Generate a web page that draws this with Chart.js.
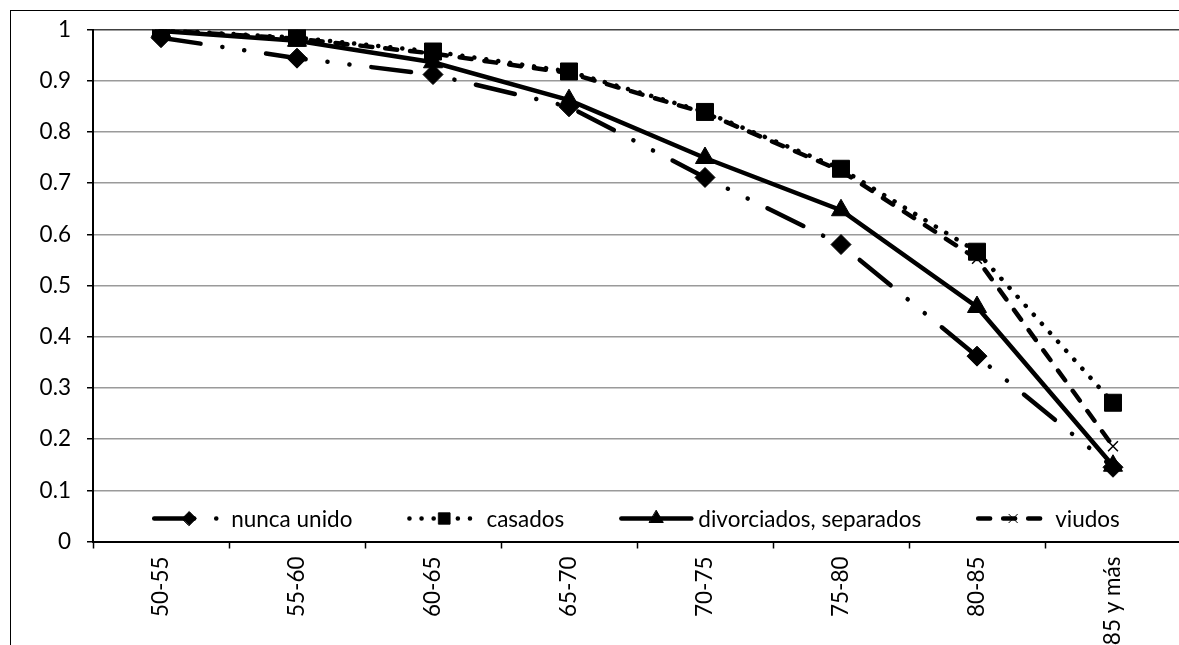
<!DOCTYPE html>
<html>
<head>
<meta charset="utf-8">
<script src="https://cdn.jsdelivr.net/npm/chart.js@4.4.1/dist/chart.umd.min.js"></script>
<style>
html, body { margin: 0; padding: 0; background: #fff; overflow: hidden; width: 1179px; height: 645px; }
#clip { position: absolute; left: 0; top: 0; width: 1179px; height: 645px; overflow: hidden; }
#frame { position: absolute; left: 10px; top: 10px; width: 1220px; height: 700px; border-left: 1.5px solid #000; border-top: 1.5px solid #000; box-sizing: border-box; }
#wrap { position: absolute; left: 0; top: 0; width: 1200px; height: 645px; }
</style>
</head>
<body>
<div id="clip">
<div id="frame"></div>
<div id="wrap"><canvas id="survChart" width="1200" height="645"></canvas></div>
</div>
<script>
// Age groups on the x axis
const ageGroups = ['50-55', '55-60', '60-65', '65-70', '70-75', '75-80', '80-85', '85 y más'];

// Series values
const nuncaUnido  = [0.984, 0.944, 0.912, 0.849, 0.711, 0.580, 0.362, 0.145];
const casados     = [0.999, 0.984, 0.957, 0.918, 0.839, 0.728, 0.566, 0.271];
const divorciados = [0.997, 0.978, 0.936, 0.862, 0.749, 0.647, 0.458, 0.148];
const viudos      = [0.998, 0.982, 0.953, 0.915, 0.837, 0.724, 0.552, 0.186];

const seriesNames = ['nunca unido', 'casados', 'divorciados, separados', 'viudos'];

const FONT_FAMILY = "Lato, 'Liberation Sans', sans-serif";
const FONT_SIZE = 22.5;

Chart.defaults.font.family = FONT_FAMILY;
Chart.defaults.font.size = FONT_SIZE;
Chart.defaults.color = '#000';

// Legend drawn inside the plot, just above the x axis
const insideLegend = {
    id: 'insideLegend',
    afterDraw(chart) {
        const ctx = chart.ctx;
        const area = chart.chartArea;
        const sampleW = 70, textGap = 7, itemGap = 57;
        ctx.save();
        ctx.font = FONT_SIZE + 'px ' + FONT_FAMILY;
        const items = chart.data.datasets.map(ds => ({
            ds: ds,
            w: sampleW + textGap + ctx.measureText(ds.label).width
        }));
        const total = items.reduce((s, it) => s + it.w, 0) + itemGap * (items.length - 1);
        let x = (area.left + area.right) / 2 - total / 2;
        const y = area.bottom - 23;
        items.forEach(it => {
            const ds = it.ds;
            ctx.beginPath();
            ctx.strokeStyle = '#000';
            ctx.lineWidth = ds.borderWidth;
            ctx.lineCap = 'round';
            ctx.setLineDash(ds.borderDash || []);
            ctx.moveTo(x, y);
            ctx.lineTo(x + sampleW, y);
            ctx.stroke();
            ctx.setLineDash([]);
            ctx.fillStyle = '#000';
            ctx.strokeStyle = '#000';
            ctx.lineWidth = 1;
            Chart.helpers.drawPoint(ctx, {
                pointStyle: ds.pointStyle,
                radius: ds.legendRadius,
                rotation: 0,
                borderWidth: 1
            }, x + sampleW / 2, y);
            ctx.fillStyle = '#000';
            ctx.textAlign = 'left';
            ctx.textBaseline = 'middle';
            ctx.fillText(ds.label, x + sampleW + textGap, y + 1);
            x += it.w + itemGap;
        });
        ctx.restore();
    }
};

const ctx = document.getElementById('survChart').getContext('2d');

const survChart = new Chart(ctx, {
    type: 'line',
    data: {
        labels: ageGroups,
        datasets: [
            {
                label: seriesNames[0],
                data: nuncaUnido,
                borderColor: '#000',
                backgroundColor: '#000',
                borderWidth: 4.5,
                borderDash: [40, 22, 0.1, 22, 0.1, 22], // long dash - dot - dot
                borderCapStyle: 'round',
                pointStyle: 'rectRot',
                pointRadius: 10,
                pointBorderWidth: 1,
                legendRadius: 7
            },
            {
                label: seriesNames[1],
                data: casados,
                borderColor: '#000',
                backgroundColor: '#000',
                borderWidth: 4.5,
                borderDash: [0.1, 12], // round dots
                borderCapStyle: 'round',
                pointStyle: 'rect',
                pointRadius: 12,
                pointBorderWidth: 1,
                legendRadius: 8
            },
            {
                label: seriesNames[2],
                data: divorciados,
                borderColor: '#000',
                backgroundColor: '#000',
                borderWidth: 4.5,
                borderCapStyle: 'round',
                pointStyle: 'triangle',
                pointRadius: 11,
                pointBorderWidth: 1,
                legendRadius: 8
            },
            {
                label: seriesNames[3],
                data: viudos,
                borderColor: '#000',
                backgroundColor: '#000',
                borderWidth: 4.5,
                borderDash: [12, 13], // dashes
                borderCapStyle: 'round',
                pointStyle: 'crossRot',
                pointRadius: 7,
                pointBorderWidth: 1.5,
                legendRadius: 6
            }
        ]
    },
    options: {
        responsive: false,
        animation: false,
        events: [],
        layout: {
            padding: { left: 0, top: 29, right: 19, bottom: 0 }
        },
        plugins: {
            legend: { display: false },
            tooltip: { enabled: false }
        },
        elements: {
            line: { tension: 0 }
        },
        scales: {
            x: {
                offset: true,
                afterFit: function(scale) { scale.height = 103.5; },
                grid: {
                    offset: true,
                    drawOnChartArea: false,
                    drawTicks: true,
                    tickLength: 7,
                    tickColor: '#000',
                    tickWidth: 1.5
                },
                border: { color: '#000', width: 2 },
                ticks: {
                    autoSkip: false,
                    minRotation: 90,
                    maxRotation: 90,
                    padding: 8
                }
            },
            y: {
                min: 0,
                max: 1,
                afterFit: function(scale) { scale.width = 93; },
                grid: {
                    color: function(c) {
                        if (c.tick && c.tick.value === 0) return 'rgba(0,0,0,0)';
                        if (c.tick && c.tick.value === 1) return '#404040';
                        return '#9a9a9a';
                    },
                    lineWidth: 1.5,
                    drawTicks: true,
                    tickLength: 6,
                    tickColor: '#000',
                    tickWidth: 1.5
                },
                border: { color: '#000', width: 2 },
                ticks: {
                    stepSize: 0.1,
                    padding: 16,
                    callback: function(v) { return String(Number(v.toFixed(1))); }
                }
            }
        }
    },
    plugins: [insideLegend]
});
</script>
</body>
</html>
